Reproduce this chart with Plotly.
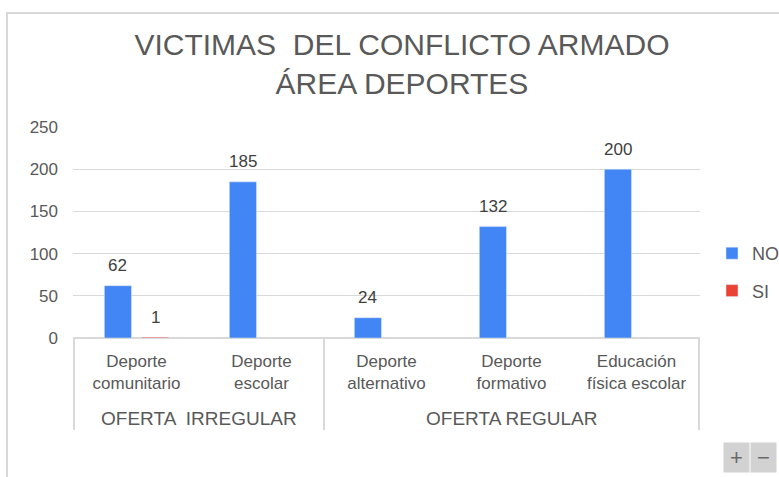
import plotly.graph_objects as go

categories = ["Deporte comunitario", "Deporte escolar", "Deporte alternativo", "Deporte formativo", "Educación física escolar"]
tick_labels = ["Deporte<br>comunitario", "Deporte<br>escolar", "Deporte<br>alternativo", "Deporte<br>formativo", "Educación<br>física escolar"]
group_labels = ["OFERTA  IRREGULAR", "OFERTA REGULAR"]
group_sizes = [2, 3]
no_values = [62, 185, 24, 132, 200]
si_values = [1, None, None, None, None]
y_ticks = [0, 50, 100, 150, 200, 250]

FONT = "Liberation Sans, Arial, sans-serif"
GRAY = "#595959"
LINE = "#D9D9D9"

W, H = 779, 477
L, R, T, B = 73, 79, 127, 139
PW, PH = W - L - R, H - T - B
BARGAP, BARGROUPGAP = 0.405, 0.27

def px_x(p):
    return (p - L) / PW

def px_y(p):
    return (H - B - p) / PH

fig = go.Figure()
series = [("NO", no_values, "#4285F4"), ("SI", si_values, "#EA4335")]
for i, (name, vals, col) in enumerate(series):
    fig.add_trace(go.Bar(
        name=name, x=categories, y=vals, legendgroup=name,
        marker=dict(color=col), hoverinfo="x+y+name",
    ))

# value labels above each bar (placed from the data values)
cat_px = PW / len(categories)
slot_px = cat_px * (1 - BARGAP) / len(series)
for i, (name, vals, col) in enumerate(series):
    shift = (i - (len(series) - 1) / 2) * slot_px
    for c, v in zip(categories, vals):
        if v is None:
            continue
        fig.add_annotation(xref="x", yref="y", x=c, y=v, text=str(v),
                           showarrow=False, xanchor="center", yanchor="middle",
                           xshift=shift, yshift=20,
                           font=dict(size=17, color="#404040", family=FONT))

fig.update_layout(
    width=W, height=H,
    margin=dict(l=L, r=R, t=T, b=B, autoexpand=False),
    paper_bgcolor="white", plot_bgcolor="white",
    barmode="group", bargap=BARGAP, bargroupgap=BARGROUPGAP,
    font=dict(family=FONT, color=GRAY, size=17),
    title=dict(
        text="VICTIMAS  DEL CONFLICTO ARMADO<br>ÁREA DEPORTES",
        x=0.516, xanchor="center", y=0.884, yanchor="middle",
        font=dict(size=30, color=GRAY, family=FONT),
    ),
    legend=dict(
        x=px_x(712), xanchor="left", y=px_y(272), yanchor="middle",
        font=dict(size=18, color=GRAY, family=FONT),
        traceorder="grouped", tracegroupgap=11, itemwidth=30,
    ),
    showlegend=True,
)
fig.update_yaxes(
    range=[0, 250], tickvals=y_ticks, showgrid=True, gridcolor=LINE,
    gridwidth=1, zeroline=True, zerolinecolor=LINE, showline=False,
    tickfont=dict(size=17, color=GRAY), ticks="", ticklabelstandoff=14,
)
fig.update_xaxes(
    type="category", categoryorder="array", categoryarray=categories,
    tickvals=categories, ticktext=tick_labels,
    showline=False, showgrid=False, ticks="", ticklabelstandoff=11,
    tickfont=dict(size=17, color=GRAY),
)

# group dividers and group labels
pos = -0.5
bounds = [pos]
for g, n in zip(group_labels, group_sizes):
    fig.add_annotation(xref="x", yref="paper", x=pos + n / 2, y=px_y(418),
                       text=g, showarrow=False, xanchor="center", yanchor="middle",
                       font=dict(size=19, color=GRAY))
    pos += n
    bounds.append(pos)
for b in bounds:
    fig.add_shape(type="line", xref="x", yref="paper", x0=b, x1=b,
                  y0=0, y1=px_y(430), line=dict(color=LINE, width=2))

# chart frame edges (top and left)
fig.add_shape(type="line", xref="paper", yref="paper",
              x0=px_x(6), x1=px_x(779), y0=px_y(13), y1=px_y(13),
              line=dict(color=LINE, width=2))
fig.add_shape(type="line", xref="paper", yref="paper",
              x0=px_x(7), x1=px_x(7), y0=px_y(13), y1=px_y(477),
              line=dict(color=LINE, width=2))

# zoom buttons
for lbl, cx in [("+", 737), ("−", 763.5)]:
    fig.add_annotation(xref="paper", yref="paper", xanchor="center", yanchor="middle",
                       x=px_x(cx), y=px_y(457), text=lbl, showarrow=False,
                       font=dict(size=22, color="#6A6A6A"), bgcolor="#D2D2D2",
                       width=21, height=25, borderpad=2)

fig.write_html("out.html", config={"displayModeBar": False},
               post_script="document.body.style.margin='0px';")
